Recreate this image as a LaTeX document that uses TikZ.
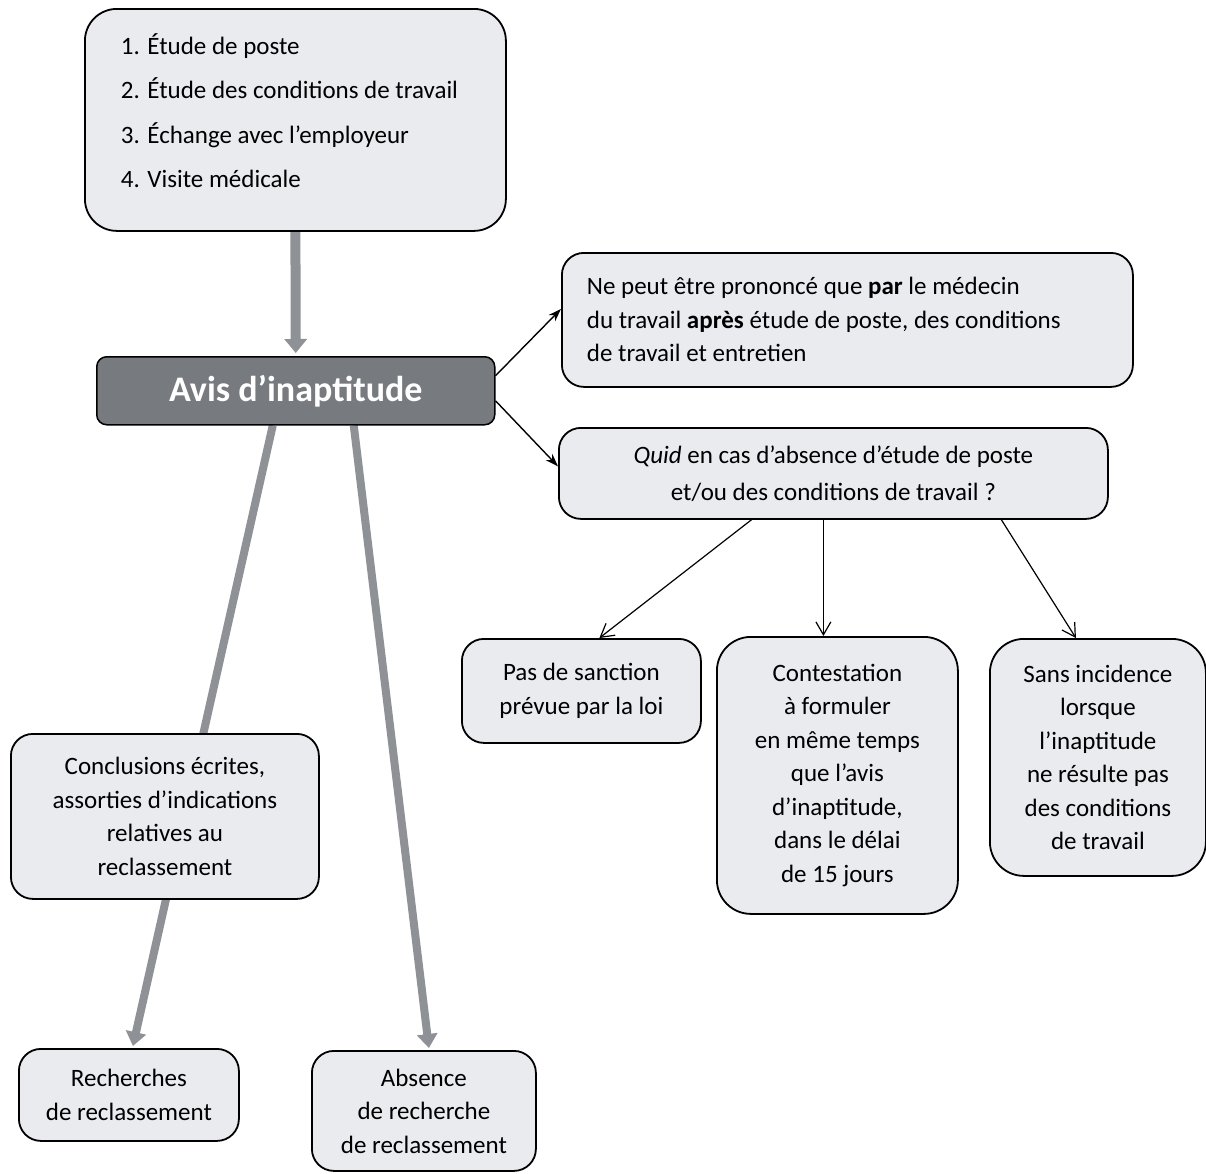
\documentclass[tikz,border=0pt]{standalone}
\usepackage{fontspec}
\setmainfont{Carlito}
\usetikzlibrary{arrows.meta,backgrounds,positioning}
\definecolor{boxfill}{HTML}{E9EBEF}
\definecolor{avisfill}{HTML}{777A7F}
\definecolor{garrow}{HTML}{8E9196}
\tikzset{
  box/.style={draw=black, line width=1.8pt, fill=boxfill, rounded corners=22pt, anchor=north west, inner sep=0pt,
    font={\fontsize{25}{33.5}\selectfont}, align=center},
  grayarrow/.style={draw=garrow, line width=8pt, -{Triangle[width=20pt,length=14pt]}},
  blackarrow/.style={draw=black, line width=1.4pt, -{Stealth[length=13pt,width=9pt]}},
  openarrow/.style={draw=black, line width=1.2pt, -{Straight Barb[length=13pt,width=15pt]}}
}
\begin{document}
\begin{tikzpicture}[x=1pt,y=-1pt]
\useasboundingbox (0,0) rectangle (1206,1173);

\node[box, rounded corners=32pt, minimum width=421pt, minimum height=222pt, text width=349pt, align=flush left,
  font={\fontsize{25}{44.5}\selectfont}] (top) at (84,8)
  {1. Étude de poste\\2. Étude des conditions de travail\\3. Échange avec l’employeur\\4. Visite médicale\\[-26pt]\mbox{}};

\node[box, fill=avisfill, rounded corners=10pt, line width=1.5pt, minimum width=398pt, minimum height=68pt,
  text=white, font={\fontsize{36}{40}\selectfont\bfseries}] (avis) at (96,356) {Avis d’inaptitude};

\node[box, minimum width=571pt, minimum height=134pt, text width=521pt, align=flush left] (nepeut) at (561,252)
  {Ne peut être prononcé que \textbf{par} le médecin\\du travail \textbf{après} étude de poste, des conditions\\de travail et entretien};

\node[box, minimum width=549pt, minimum height=91pt, font={\fontsize{25}{37}\selectfont}] (quid) at (558,427)
  {\textit{Quid} en cas d’absence d’étude de poste\\et/ou des conditions de travail ?};

\node[box, minimum width=239pt, minimum height=104pt] (pas) at (461,638)
  {Pas de sanction\\prévue par la loi};

\node[box, rounded corners=34pt, minimum width=241pt, minimum height=277pt] (contest) at (716,636)
  {Contestation\\à formuler\\en même temps\\que l’avis\\d’inaptitude,\\dans le délai\\de 15 jours};

\node[box, rounded corners=34pt, minimum width=216pt, minimum height=237pt] (sans) at (989,638)
  {Sans incidence\\lorsque\\l’inaptitude\\ne résulte pas\\des conditions\\de travail};

\node[box, minimum width=308pt, minimum height=165pt] (concl) at (10,733)
  {Conclusions écrites,\\assorties d’indications\\relatives au\\reclassement};

\node[box, minimum width=220pt, minimum height=92pt] (rech) at (18,1048)
  {Recherches\\de reclassement};

\node[box, minimum width=224pt, minimum height=120pt] (absence) at (311,1050)
  {Absence\\de recherche\\de reclassement};

\begin{scope}[on background layer]
  \fill[white] (0,0) rectangle (1206,1173);
  \draw[grayarrow, line width=10pt, -{Triangle[width=22pt,length=14pt]}] (top.south) -- ([yshift=3pt]avis.north);
  \draw[grayarrow] ([xshift=-23pt]avis.south) -- ([xshift=4pt,yshift=2pt]rech.north);
  \draw[grayarrow] ([xshift=58pt]avis.south) -- ([xshift=5pt,yshift=2pt]absence.north);
\end{scope}

\draw[blackarrow] ([yshift=15pt]avis.east) -- ([yshift=11pt]nepeut.west);
\draw[blackarrow] ([yshift=-10pt]avis.east) -- ([yshift=7pt]quid.west);

\draw[openarrow] ([xshift=-82pt]quid.south) -- ([xshift=18pt]pas.north);
\draw[openarrow] ([xshift=-10pt]quid.south) -- ([xshift=-14pt]contest.north);
\draw[openarrow] ([xshift=168pt]quid.south) -- ([xshift=-22pt]sans.north);
\end{tikzpicture}
\end{document}
